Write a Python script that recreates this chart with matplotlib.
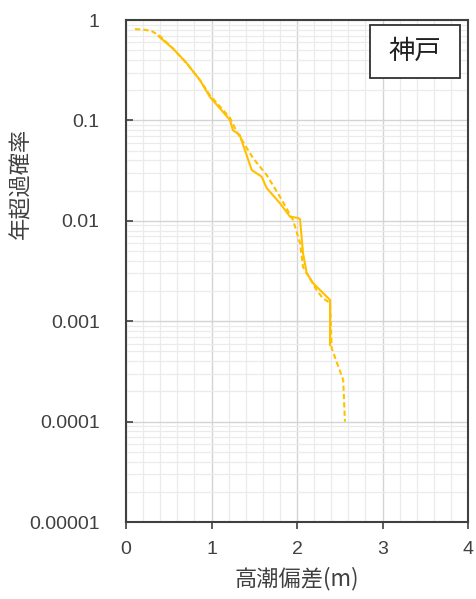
import matplotlib
matplotlib.use("Agg")
import matplotlib.pyplot as plt
from matplotlib.patches import Rectangle
from matplotlib.ticker import FixedLocator, LogLocator, NullFormatter, MultipleLocator

# Observed exceedance curve (solid) and fitted curve (dashed), Kobe
obs_surge = [0.38, 0.55, 0.71, 0.865, 0.98, 1.216, 1.25, 1.33, 1.35, 1.47, 1.587, 1.645,
             1.80, 1.918, 2.01, 2.035, 2.07, 2.113, 2.187, 2.386, 2.386]
obs_prob = [0.69, 0.52, 0.371, 0.252, 0.172, 0.101, 0.080, 0.0716, 0.0638, 0.0321, 0.0275,
            0.0212, 0.0150, 0.0110, 0.0107, 0.0104, 0.00478, 0.00302, 0.0024,
            0.00163, 0.00058]

fit_surge = [0.105, 0.22, 0.30, 0.40, 0.55, 0.71, 0.865, 0.98, 1.216, 1.295, 1.485, 1.645,
             1.80, 1.953, 2.035, 2.07, 2.23, 2.30, 2.386, 2.405, 2.54, 2.56]
fit_prob = [0.813, 0.80, 0.777, 0.69, 0.52, 0.371, 0.252, 0.179, 0.106, 0.0772, 0.0422,
            0.0286, 0.0174, 0.0102, 0.0060, 0.00347, 0.00204, 0.0017, 0.00152,
            0.00054, 0.00026, 0.0001]

x_ticks = [0, 1, 2, 3, 4]
y_ticks = [1, 0.1, 0.01, 0.001, 0.0001, 0.00001]
y_tick_labels = ["1", "0.1", "0.01", "0.001", "0.0001", "0.00001"]

station = "神戸"
x_label = "高潮偏差(m)"
y_label = "年超過確率"

jp = ["Noto Sans CJK JP", "DejaVu Sans"]
num = ["Liberation Sans", "DejaVu Sans"]
line_color = "#FFC000"
spine_color = "#404040"
text_color = "#404040"

fig = plt.figure(figsize=(4.77, 5.99), dpi=100)
ax = fig.add_axes([0.2642, 0.1285, 0.717, 0.838])

ax.set_yscale("log")
ax.set_xlim(0, 4)
ax.set_ylim(1e-5, 1)

ax.plot(obs_surge, obs_prob, color=line_color, lw=1.5, solid_joinstyle="round", zorder=3)
ax.plot(fit_surge, fit_prob, color=line_color, lw=1.5, ls=(0, (2.5, 1.5)), zorder=3)

# grid
ax.xaxis.set_major_locator(FixedLocator(x_ticks))
ax.xaxis.set_minor_locator(MultipleLocator(0.2))
ax.yaxis.set_major_locator(FixedLocator(y_ticks))
ax.yaxis.set_minor_locator(LogLocator(base=10, subs=range(2, 10), numticks=20))
ax.yaxis.set_minor_formatter(NullFormatter())
ax.grid(which="major", color="#d4d4d4", lw=1.0, zorder=0)
ax.grid(which="minor", color="#ebebeb", lw=0.9, zorder=0)
ax.set_axisbelow(True)

ax.set_xticks(x_ticks)
ax.set_xticklabels([str(v) for v in x_ticks], family=num, fontsize=14, color=text_color)
ax.set_yticks(y_ticks)
ax.set_yticklabels(y_tick_labels, family=num, fontsize=14, color=text_color)

ax.tick_params(axis="x", which="major", direction="out", length=5, width=1.2,
               color=spine_color, pad=9)
ax.tick_params(axis="y", which="major", direction="in", length=5, width=1.2,
               color=spine_color, pad=19)
ax.tick_params(which="minor", length=0)

for s in ax.spines.values():
    s.set_color(spine_color)
    s.set_linewidth(1.5)

ax.set_xlabel(x_label, family=jp, fontsize=16, color=text_color, labelpad=6)
ax.set_ylabel(y_label, family=jp, fontsize=16, color=text_color, va="center")
ax.yaxis.set_label_coords(-0.307, 0.674)

# station name box
ax.add_patch(Rectangle((0.713, 0.884), 0.264, 0.106, transform=ax.transAxes,
                       fc="white", ec="#303030", lw=1.3, zorder=5))
ax.text(0.845, 0.937, station, transform=ax.transAxes, family=jp, fontsize=19,
        color="#202020", ha="center", va="center", zorder=6)

fig.savefig("out.png", dpi=100)
